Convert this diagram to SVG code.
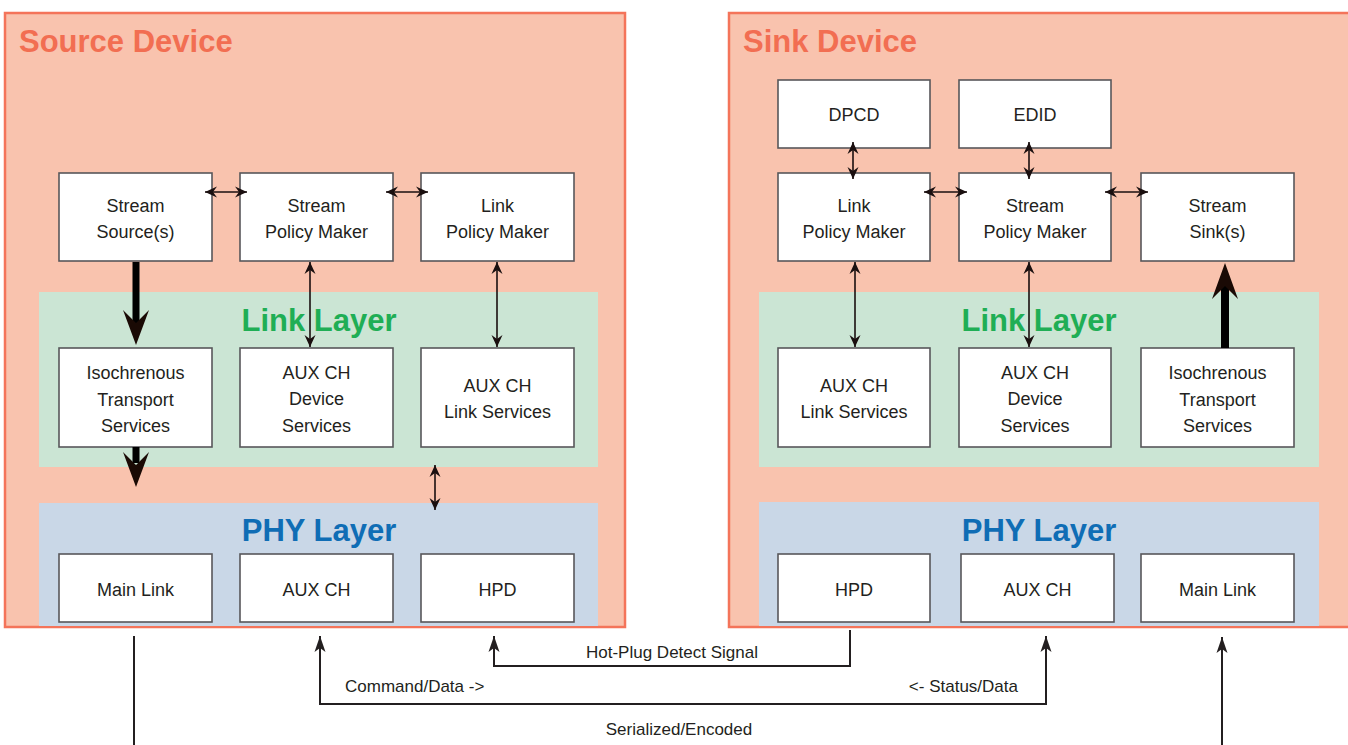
<svg xmlns="http://www.w3.org/2000/svg" width="1348" height="745" viewBox="0 0 1348 745">
<style>
.dev{fill:#f9c3ae;stroke:#f4745a;stroke-width:2.5}
.ll{fill:#cbe5d4}
.pl{fill:#c9d7e7}
.box{fill:#fff;stroke:#58575a;stroke-width:1.6}
.t{font-family:"Liberation Sans",Arial,sans-serif;font-size:18px;fill:#231f20;text-anchor:middle}
.lbl{font-family:"Liberation Sans",Arial,sans-serif;font-size:17px;fill:#231f20}
.dt{font-family:"Liberation Sans",Arial,sans-serif;font-size:31px;font-weight:bold;fill:#f26e52}
.lt{font-family:"Liberation Sans",Arial,sans-serif;font-size:31px;font-weight:bold;fill:#1fae55;text-anchor:middle}
.pt{font-family:"Liberation Sans",Arial,sans-serif;font-size:31px;font-weight:bold;fill:#0f6db5;text-anchor:middle}
.ar{fill:none;stroke:#1a0f0f;stroke-width:1.6}
.ln{fill:none;stroke:#231f20;stroke-width:2}
.thick{fill:#000}
.head{fill:#1a0a05}
</style>
<defs>
<marker id="ah" viewBox="0 0 12 12" refX="12" refY="6" markerWidth="12" markerHeight="12" markerUnits="userSpaceOnUse" orient="auto-start-reverse">
<path d="M0,0.5 L12,6 L0,11.5 L4,6 z" fill="#1a0f0f"/>
</marker>
<marker id="ah2" viewBox="0 0 16 12" refX="16" refY="6" markerWidth="16" markerHeight="12" markerUnits="userSpaceOnUse" orient="auto-start-reverse">
<path d="M0,0.5 L16,6 L0,11.5 L4,6 z" fill="#231f20"/>
</marker>
</defs>

<g id="source-device">
<rect class="dev" x="5" y="13" width="620" height="614"/>
<text class="dt" x="19" y="52">Source Device</text>
</g>
<g id="sink-device">
<rect class="dev" x="729" y="13" width="625" height="614"/>
<text class="dt" x="743" y="52">Sink Device</text>
</g>

<g id="source-link-layer">
<rect class="ll" x="39" y="292" width="559" height="175"/>
<text class="lt" x="319" y="331">Link Layer</text>
</g>
<g id="source-phy-layer">
<rect class="pl" x="39" y="503" width="559" height="123"/>
<text class="pt" x="319" y="541">PHY Layer</text>
</g>
<g id="sink-link-layer">
<rect class="ll" x="759" y="292" width="560" height="175"/>
<text class="lt" x="1039" y="331">Link Layer</text>
</g>
<g id="sink-phy-layer">
<rect class="pl" x="759" y="502" width="560" height="124"/>
<text class="pt" x="1039" y="541">PHY Layer</text>
</g>

<g id="src-stream-source">
<rect class="box" x="59" y="173" width="153" height="88"/>
<text class="t" x="135.5" y="212">Stream</text>
<text class="t" x="135.5" y="238">Source(s)</text>
</g>
<g id="src-stream-policy">
<rect class="box" x="240" y="173" width="153" height="88"/>
<text class="t" x="316.5" y="212">Stream</text>
<text class="t" x="316.5" y="238">Policy Maker</text>
</g>
<g id="src-link-policy">
<rect class="box" x="421" y="173" width="153" height="88"/>
<text class="t" x="497.5" y="212">Link</text>
<text class="t" x="497.5" y="238">Policy Maker</text>
</g>
<g id="src-iso">
<rect class="box" x="59" y="348" width="153" height="99"/>
<text class="t" x="135.5" y="379">Isochrenous</text>
<text class="t" x="135.5" y="406">Transport</text>
<text class="t" x="135.5" y="432">Services</text>
</g>
<g id="src-aux-dev">
<rect class="box" x="240" y="348" width="153" height="99"/>
<text class="t" x="316.5" y="379">AUX CH</text>
<text class="t" x="316.5" y="405">Device</text>
<text class="t" x="316.5" y="432">Services</text>
</g>
<g id="src-aux-link">
<rect class="box" x="421" y="348" width="153" height="99"/>
<text class="t" x="497.5" y="392">AUX CH</text>
<text class="t" x="497.5" y="418">Link Services</text>
</g>
<g id="src-main-link">
<rect class="box" x="59" y="554" width="153" height="68"/>
<text class="t" x="135.5" y="596">Main Link</text>
</g>
<g id="src-aux-ch">
<rect class="box" x="240" y="554" width="153" height="68"/>
<text class="t" x="316.5" y="596">AUX CH</text>
</g>
<g id="src-hpd">
<rect class="box" x="421" y="554" width="153" height="68"/>
<text class="t" x="497.5" y="596">HPD</text>
</g>

<g id="snk-dpcd">
<rect class="box" x="778" y="80" width="152" height="68"/>
<text class="t" x="854" y="121">DPCD</text>
</g>
<g id="snk-edid">
<rect class="box" x="959" y="80" width="152" height="68"/>
<text class="t" x="1035" y="121">EDID</text>
</g>
<g id="snk-link-policy">
<rect class="box" x="778" y="173" width="152" height="88"/>
<text class="t" x="854" y="212">Link</text>
<text class="t" x="854" y="238">Policy Maker</text>
</g>
<g id="snk-stream-policy">
<rect class="box" x="959" y="173" width="152" height="88"/>
<text class="t" x="1035" y="212">Stream</text>
<text class="t" x="1035" y="238">Policy Maker</text>
</g>
<g id="snk-stream-sink">
<rect class="box" x="1141" y="173" width="153" height="88"/>
<text class="t" x="1217.5" y="212">Stream</text>
<text class="t" x="1217.5" y="238">Sink(s)</text>
</g>
<g id="snk-aux-link">
<rect class="box" x="778" y="348" width="152" height="99"/>
<text class="t" x="854" y="392">AUX CH</text>
<text class="t" x="854" y="418">Link Services</text>
</g>
<g id="snk-aux-dev">
<rect class="box" x="959" y="348" width="152" height="99"/>
<text class="t" x="1035" y="379">AUX CH</text>
<text class="t" x="1035" y="405">Device</text>
<text class="t" x="1035" y="432">Services</text>
</g>
<g id="snk-iso">
<rect class="box" x="1141" y="348" width="153" height="99"/>
<text class="t" x="1217.5" y="379">Isochrenous</text>
<text class="t" x="1217.5" y="406">Transport</text>
<text class="t" x="1217.5" y="432">Services</text>
</g>
<g id="snk-hpd">
<rect class="box" x="778" y="554" width="152" height="68"/>
<text class="t" x="854" y="596">HPD</text>
</g>
<g id="snk-aux-ch">
<rect class="box" x="961" y="554" width="153" height="68"/>
<text class="t" x="1037.5" y="596">AUX CH</text>
</g>
<g id="snk-main-link">
<rect class="box" x="1141" y="554" width="153" height="68"/>
<text class="t" x="1217.5" y="596">Main Link</text>
</g>

<g id="connectors">
<line class="ar" x1="205" y1="192" x2="247" y2="192" marker-start="url(#ah)" marker-end="url(#ah)"/>
<line class="ar" x1="386" y1="192" x2="428" y2="192" marker-start="url(#ah)" marker-end="url(#ah)"/>
<line class="ar" x1="310" y1="262" x2="310" y2="347" marker-start="url(#ah)" marker-end="url(#ah)"/>
<line class="ar" x1="497" y1="262" x2="497" y2="347" marker-start="url(#ah)" marker-end="url(#ah)"/>
<line class="ar" x1="435" y1="465" x2="435" y2="510" marker-start="url(#ah)" marker-end="url(#ah)"/>
<rect class="thick" x="132.5" y="262" width="7" height="64"/>
<path class="head" d="M136,345 L149,310 L136,323 L123,310 Z"/>
<rect class="thick" x="132.5" y="447" width="7" height="16"/>
<path class="head" d="M136,487 L149,452 L136,465 L123,452 Z"/>
<line class="ar" x1="853" y1="142" x2="853" y2="179" marker-start="url(#ah)" marker-end="url(#ah)"/>
<line class="ar" x1="1029" y1="142" x2="1029" y2="179" marker-start="url(#ah)" marker-end="url(#ah)"/>
<line class="ar" x1="924" y1="192" x2="967" y2="192" marker-start="url(#ah)" marker-end="url(#ah)"/>
<line class="ar" x1="1105" y1="192" x2="1148" y2="192" marker-start="url(#ah)" marker-end="url(#ah)"/>
<line class="ar" x1="855" y1="262" x2="855" y2="347" marker-start="url(#ah)" marker-end="url(#ah)"/>
<line class="ar" x1="1029" y1="262" x2="1029" y2="347" marker-start="url(#ah)" marker-end="url(#ah)"/>
<rect class="thick" x="1221" y="284" width="8" height="64"/>
<path class="head" d="M1225,263 L1238,299 L1225,286 L1212,299 Z"/>
<line class="ln" x1="134" y1="636" x2="134" y2="745"/>
<polyline class="ln" points="320,636 320,704 1046,704 1046,636" marker-start="url(#ah2)" marker-end="url(#ah2)"/>
<polyline class="ln" points="850,630 850,666 494,666 494,636" marker-end="url(#ah2)"/>
<line class="ln" x1="1222" y1="745" x2="1222" y2="637" marker-end="url(#ah2)"/>
<text class="lbl" x="672" y="658" text-anchor="middle">Hot-Plug Detect Signal</text>
<text class="lbl" x="345" y="692">Command/Data -&gt;</text>
<text class="lbl" x="1018" y="692" text-anchor="end">&lt;- Status/Data</text>
<text class="lbl" x="679" y="735" text-anchor="middle">Serialized/Encoded</text>
</g>
</svg>
